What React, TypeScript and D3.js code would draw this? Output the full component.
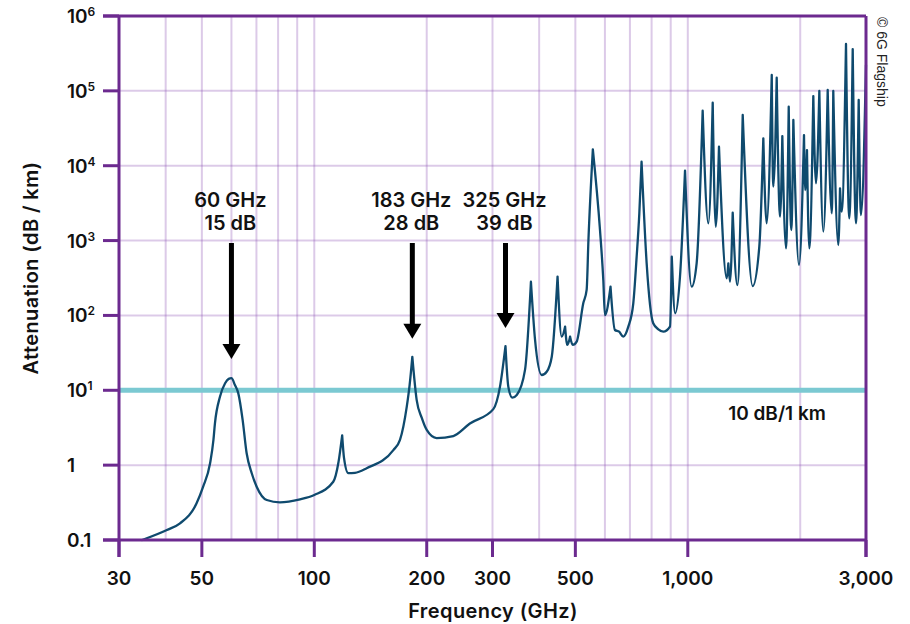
import React from "react";
import * as d3 from "d3";

// Frequency (GHz) and specific attenuation (dB/km)
const FREQ_GHZ = [
  34.6, 40.3, 43.7, 48.4, 50.4, 52.6, 53.7, 54.2, 55.9, 57.7, 59, 60, 61.3, 62.6,
  64.3, 65.9, 68, 70.1, 74.6, 80.9, 91.6, 100, 112.4, 116.1, 118.75, 120.1, 123.3,
  128.5, 138.1, 162.8, 169.6, 176.8, 180, 183, 188, 193.9, 200, 212.6, 235.6, 261,
  301.5, 314.2, 325, 330.7, 339, 348.4, 366.6, 380.2, 390, 406.3, 419, 432.3, 448,
  459.6, 469.3, 475.9, 484, 492, 504, 525, 536, 542, 556.9, 582, 594, 600, 621, 638,
  655, 672, 693, 714.6, 729.6, 741.7, 752, 776, 808, 834, 860, 896, 906, 925, 953,
  983, 1024, 1056, 1096, 1135, 1166, 1188, 1212, 1271, 1284, 1297, 1319, 1357,
  1403, 1492, 1554, 1593, 1626, 1678, 1694, 1730, 1766, 1791, 1832, 1863, 1893,
  1917, 1985, 2047, 2063, 2085, 2115, 2168, 2204, 2250, 2306, 2369, 2429, 2452,
  2529, 2556, 2583, 2652, 2706, 2764, 2820, 2868, 2909, 3000,
];
const ATTEN_DB_KM = [
  0.1, 0.136, 0.167, 0.309, 0.515, 1.06, 2.17, 3.62, 8.2, 12.4, 14.2, 14.5, 11.8, 9.1,
  4.0, 1.44, 0.78, 0.515, 0.342, 0.319, 0.35, 0.4, 0.6, 1.1, 2.5, 1.25, 0.78,
  0.79, 0.91, 1.59, 2.17, 6.0, 11.8, 28, 7.4, 4.3, 2.95, 2.3, 2.45, 3.6,
  5.6, 11.2, 39, 11.2, 7.96, 8.65, 18.7, 282, 47, 16.0, 17.7, 28.1, 330,
  52, 70.7, 40.3, 52, 40.3, 44.6, 145, 219, 1018, 16500, 1384, 297, 101, 242, 63.9,
  60.6, 52, 70.7, 145, 609, 2312, 11320, 497, 78.5, 65.3, 60.6, 70.7, 609, 107, 329,
  8570, 242, 497, 54300, 1702, 69500, 1531, 17950, 313, 497, 282, 2355, 255,
  47600, 247, 828, 23200, 1702, 163000, 5250, 150000, 2084, 24900, 788, 61400, 1384,
  40800, 472, 25700, 4730, 16200, 788, 85300, 5820, 99500, 1313, 102600, 2312, 99500,
  873, 4990, 2430, 422700, 1982, 362000, 1702, 75500, 2195, 221500,
];
// the oxygen complex at 60 GHz is a broad, rounded maximum (not a sharp line)
const BROAD_PEAKS = [60];

const X_TICKS = [30, 50, 100, 200, 300, 500, 1000, 3000];
const Y_TICKS = [0.1, 1, 10, 100, 1e3, 1e4, 1e5, 1e6];

const ANNOT_FREQ = [60, 183, 325];
const ANNOT_DB = [15, 28, 39];
const ANNOT_LABEL_F = ["60 GHz", "183 GHz", "325 GHz"];
const ANNOT_LABEL_DB = ["15 dB", "28 dB", "39 dB"];

const THRESHOLD_DB = 10;
const THRESHOLD_LABEL = "10 dB/1 km";

const W = 910;
const H = 624;
const L = 119, R = 866, T = 16, B = 540;

const PURPLE = "#6c2a8f";
const GRID = "#8a50b2";
const CURVE = "#0f4a6e";
const CYAN = "#7bc9d2";
const FONT = "Inter, 'Open Sans', sans-serif";

export default function App() {
  const x = d3.scaleLog().domain([30, 3000]).range([L, R]);
  const y = d3.scaleLog().domain([0.1, 1e6]).range([B, T]);

  const gridX = x.ticks().filter((t) => t > 30 && t < 3000);
  const gridY = Y_TICKS.filter((t) => t > 0.1 && t < 1e6);

  // split the series at sharp line peaks so that peaks stay pointed
  // while valleys are drawn smoothly
  const pts: [number, number][] = FREQ_GHZ.map((f, i) => [x(f), y(ATTEN_DB_KM[i])]);
  const runs: [number, number][][] = [];
  let start = 0;
  for (let i = 1; i < pts.length - 1; i++) {
    const a = ATTEN_DB_KM;
    if (a[i] > a[i - 1] && a[i] > a[i + 1] && !BROAD_PEAKS.includes(FREQ_GHZ[i])) {
      runs.push(pts.slice(start, i + 1));
      start = i;
    }
  }
  runs.push(pts.slice(start));
  const seg = d3.line().curve(d3.curveMonotoneX);
  const curvePath = runs.map((r) => seg(r) || "").join("");

  const fmt = d3.format(",");

  return (
    <div style={{ position: "absolute", left: 0, top: 0 }}>
      <svg width={W} height={H} style={{ display: "block", background: "#fff" }}>
        {/* grid */}
        <g stroke={GRID} strokeOpacity={0.3} strokeWidth={2}>
          {gridX.map((t) => (
            <line key={"gx" + t} x1={x(t)} x2={x(t)} y1={T} y2={B} />
          ))}
          {gridY.map((t) => (
            <line key={"gy" + t} x1={L} x2={R} y1={y(t)} y2={y(t)} />
          ))}
        </g>

        {/* threshold line */}
        <line
          x1={L}
          x2={R}
          y1={y(THRESHOLD_DB)}
          y2={y(THRESHOLD_DB)}
          stroke={CYAN}
          strokeWidth={5}
        />

        {/* curve */}
        <path
          d={curvePath}
          fill="none"
          stroke={CURVE}
          strokeWidth={2.3}
          strokeLinejoin="round"
          strokeLinecap="round"
        />

        {/* frame & ticks */}
        <g stroke={PURPLE} strokeWidth={3} fill="none">
          <line x1={L} x2={L} y1={T} y2={B + 17} />
          <line x1={R} x2={R} y1={T} y2={B + 17} />
          <line x1={L - 16} x2={R} y1={B} y2={B} />
          <line x1={L - 16} x2={R} y1={T} y2={T} />
          {Y_TICKS.map((t) => (
            <line key={"ty" + t} x1={L - 16} x2={L} y1={y(t)} y2={y(t)} />
          ))}
          {X_TICKS.map((t) => (
            <line key={"tx" + t} x1={x(t)} x2={x(t)} y1={B} y2={B + 17} />
          ))}
        </g>

        {/* y tick labels */}
        <g fontFamily={FONT} fontWeight={600} fill="#111">
          {Y_TICKS.map((t) => {
            const e = Math.round(Math.log10(t));
            return (
              <text key={"ly" + t} x={67} y={y(t) + 7} fontSize={19}>
                {t < 10 ? String(t) : "10"}
                {t >= 10 && (
                  <tspan fontSize={12} dy={-7}>
                    {e}
                  </tspan>
                )}
              </text>
            );
          })}
        </g>

        {/* x tick labels */}
        <g fontFamily={FONT} fontWeight={600} fill="#111" textAnchor="middle">
          {X_TICKS.map((t) => (
            <text key={"lx" + t} x={x(t)} y={585} fontSize={19}>
              {fmt(t)}
            </text>
          ))}
        </g>

        {/* axis titles */}
        <text
          x={493}
          y={618}
          textAnchor="middle"
          fontFamily={FONT}
          fontWeight={600}
          fontSize={20}
          letterSpacing={0.4}
          fill="#111"
        >
          Frequency (GHz)
        </text>
        <text
          transform="translate(38,268) rotate(-90)"
          textAnchor="middle"
          fontFamily={FONT}
          fontWeight={600}
          fontSize={20}
          letterSpacing={0.4}
          fill="#111"
        >
          Attenuation (dB / km)
        </text>

        {/* threshold label */}
        <text
          x={777}
          y={420}
          textAnchor="middle"
          fontFamily={FONT}
          fontWeight={600}
          fontSize={19}
          fill="#111"
        >
          {THRESHOLD_LABEL}
        </text>

        {/* annotations */}
        {ANNOT_FREQ.map((f, i) => {
          const ax = x(f);
          const tip = y(ANNOT_DB[i]) - 18;
          return (
            <g key={"an" + f}>
              <text
                x={ax - 1}
                y={207}
                textAnchor="middle"
                fontFamily={FONT}
                fontWeight={600}
                fontSize={20}
                fill="#111"
              >
                {ANNOT_LABEL_F[i]}
              </text>
              <text
                x={ax - 1}
                y={230}
                textAnchor="middle"
                fontFamily={FONT}
                fontWeight={600}
                fontSize={20}
                fill="#111"
              >
                {ANNOT_LABEL_DB[i]}
              </text>
              <line x1={ax} x2={ax} y1={243} y2={tip - 12} stroke="#000" strokeWidth={5} />
              <polygon
                points={`${ax - 9},${tip - 15} ${ax + 9},${tip - 15} ${ax},${tip}`}
                fill="#000"
              />
            </g>
          );
        })}

        {/* copyright */}
        <text
          transform="translate(877,17) rotate(90)"
          fontFamily="'Liberation Sans', Arial, sans-serif"
          fontSize={14}
          fill="#222"
        >
          © 6G Flagship
        </text>
      </svg>
    </div>
  );
}
